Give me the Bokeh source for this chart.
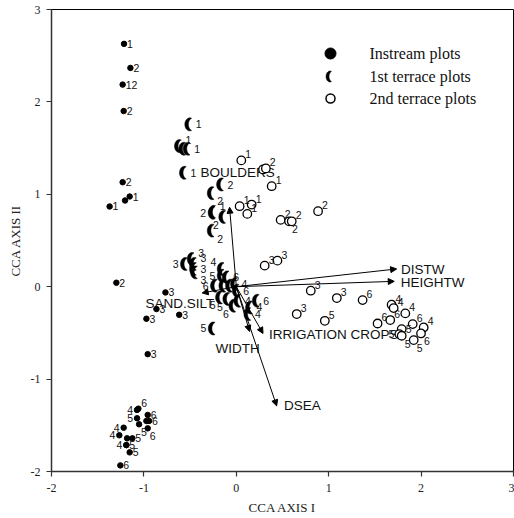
import numpy as np
from bokeh.plotting import figure
from bokeh.models import Arrow, NormalHead, ColumnDataSource, FixedTicker
from bokeh.core.properties import value
from bokeh.embed import file_html
from bokeh.resources import INLINE

# ---------------- data ----------------
# Instream plots (filled dots)
in_x = [-1.215, -1.146, -1.23, -1.219, -1.23, -1.154, -1.204, -1.371, -1.298,
        -0.767, -0.864, -0.973, -0.618, -0.959,
        -1.075, -1.06, -1.074, -1.052, -0.973, -0.944, -0.959, -0.959,
        -1.219, -1.266, -1.182, -1.125, -1.19, -1.19, -1.154, -1.255]
in_y = [2.628, 2.368, 2.187, 1.901, 1.131, 0.976, 0.933, 0.868, 0.043,
        -0.062, -0.242, -0.347, -0.304, -0.730,
        -1.334, -1.32, -1.424, -1.489, -1.453, -1.453, -1.388, -1.533,
        -1.526, -1.608, -1.641, -1.641, -1.714, -1.714, -1.793, -1.934]
in_lab = ["1", "2", "12", "2", "2", "1", "", "1", "2",
          "3", "3", "3", "3", "3",
          "4", "6", "5", "5", "", "6", "6", "6",
          "4", "4", "", "5", "4", "5", "5", "6"]
in_side = ["r", "r", "r", "r", "r", "r", "r", "r", "r",
           "r", "r", "r", "r", "r",
           "l", "u", "l", "d", "r", "r", "r", "d",
           "l", "l", "r", "r", "l", "r", "r", "r"]

# 1st terrace plots (crescents)
t1_x = [-0.503, -0.615, -0.568, -0.521, -0.561,
        -0.159, -0.26, -0.244, -0.25, -0.135, -0.26,
        -0.55, -0.477, -0.452, -0.452, -0.441,
        -0.152, -0.152, -0.098, -0.225, -0.134, -0.062, -0.008, 0.011,
        -0.17, -0.091, -0.026, 0.028, 0.228, 0.155, 0.137, -0.249]
t1_y = [1.757, 1.522, 1.493, 1.493, 1.233,
        1.106, 1.012, 0.81, 0.80, 0.755, 0.607,
        0.246, 0.30, 0.246, 0.192, 0.155,
        0.192, 0.119, 0.101, 0.011, 0.011, 0.011, 0.029, -0.043,
        -0.116, -0.133, -0.206, -0.152, -0.152, -0.225, -0.296, -0.452]
t1_lab = ["1", "1", "", "1", "1",
          "2", "2", "1", "2", "2", "2",
          "3", "3", "3", "3", "3",
          "4", "5", "6", "6", "", "", "4", "6",
          "5", "5", "6", "4", "6", "4", "4", "5"]
t1_side = ["r", "u", "r", "r", "r",
           "r", "d", "u", "l", "dl", "d",
           "l", "u", "u", "r", "d",
           "ul", "l", "r", "l", "r", "r", "r", "r",
           "dl", "dl", "dl", "r", "r", "r", "r", "l"]

# 2nd terrace plots (open circles)
t2_x = [0.054, 0.289, 0.32, 0.383, 0.036, 0.166, 0.119, 0.48, 0.571, 0.60, 0.885,
        0.307, 0.445, 0.806, 1.088, 0.654, 0.958, 1.367,
        1.681, 1.703, 1.829, 1.529, 1.666, 1.79, 1.764, 1.79,
        1.909, 2.028, 1.999, 1.92]
t2_y = [1.367, 1.269, 1.28, 1.088, 0.871, 0.889, 0.788, 0.723, 0.708, 0.708, 0.817,
        0.228, 0.282, -0.043, -0.123, -0.296, -0.369, -0.145,
        -0.195, -0.231, -0.289, -0.398, -0.361, -0.459, -0.513, -0.531,
        -0.405, -0.441, -0.506, -0.578]
t2_lab = ["1", "", "2", "1", "1", "1", "1", "2", "2", "2", "2",
          "3", "3", "3", "3", "3", "5", "6",
          "4", "4", "4", "6", "6", "5", "5", "5",
          "6", "4", "6", "5"]
t2_side = ["u", "u", "u", "u", "u", "u", "u", "u", "d", "u", "u",
           "u", "u", "u", "u", "u", "u", "u",
           "u", "u", "u", "u", "u", "r", "l", "d",
           "u", "u", "d", "d"]

# Environmental vectors (biplot arrows from the origin)
env_names = ["BOULDERS", "DISTW", "HEIGHTW", "IRRIGATION CROPS", "DSEA", "WIDTH", "SAND.SILT"]
env_x = [-0.073, 1.735, 1.709, 0.289, 0.437, 0.144, -0.369]
env_y = [0.86, 0.192, 0.058, -0.506, -1.29, -0.485, -0.068]
env_lab_x = [-0.387, 1.782, 1.779, 0.354, 0.516, -0.224, -0.984]
env_lab_y = [1.236, 0.184, 0.047, -0.513, -1.29, -0.665, -0.177]

legend_labels = ["Instream plots", "1st terrace plots", "2nd terrace plots"]
tick_vals = [-2, -1, 0, 1, 2, 3]
tick_text = ["-2", "-1", "0", "1", "2", "3"]

# ---------------- figure ----------------
W, H = 514, 518
ML, MR, MT, MB = 51, 1, 9, 47
X0, X1, Y0, Y1 = -2, 3, -2, 3
p = figure(width=W, height=H, x_range=(X0, X1), y_range=(Y0, Y1),
           output_backend="svg", toolbar_location=None,
           min_border_left=ML, min_border_right=MR,
           min_border_top=MT, min_border_bottom=MB)
p.grid.visible = False
p.background_fill_color = "white"
p.border_fill_color = "white"
p.outline_line_color = "black"
p.outline_line_width = 1

pxu = (W - ML - MR) / (X1 - X0)   # pixels per data unit (x)
pyu = (H - MT - MB) / (Y1 - Y0)   # pixels per data unit (y)

for ax in (p.xaxis[0], p.yaxis[0]):
    ax.ticker = FixedTicker(ticks=tick_vals)
    ax.major_label_overrides = {v: t for v, t in zip(tick_vals, tick_text)}
    ax.minor_tick_line_color = None
    ax.major_tick_in = 0
    ax.major_tick_out = 5
    ax.axis_line_width = 1.5
    ax.axis_line_color = "#333333"
    ax.major_tick_line_color = "#333333"
    ax.major_tick_line_width = 1.2
    ax.major_label_text_font = "Liberation Serif"
    ax.major_label_text_font_size = "12px"
    ax.major_label_text_color = "#222222"
    ax.axis_label_text_font = "Liberation Serif"
    ax.axis_label_text_font_size = "13px"
    ax.axis_label_text_font_style = "normal"
    ax.axis_label_text_color = "#222222"
p.xaxis.axis_label = "CCA AXIS I"
p.yaxis.axis_label = "CCA AXIS II"
p.xaxis.major_label_standoff = 7
p.xaxis.axis_label_standoff = 5
p.yaxis.major_label_standoff = 6
p.yaxis.axis_label_standoff = 5

# ---------------- arrows ----------------
asrc = ColumnDataSource(dict(x0=[0.0] * len(env_x), y0=[0.0] * len(env_y), x1=env_x, y1=env_y))
p.add_layout(Arrow(source=asrc, x_start="x0", y_start="y0", x_end="x1", y_end="y1",
                   line_color="black", line_width=1,
                   end=NormalHead(size=6, fill_color="black", line_color="black", line_width=1)))
p.text(x=env_lab_x, y=env_lab_y, text=env_names, text_align="left", text_baseline="middle",
       text_font=value("Liberation Sans"), text_font_size="13.5px", text_color="#111111")

# ---------------- helpers ----------------
OFFS = {"r": (3, 0, "left"), "l": (-4, 0, "right"), "u": (3, -6, "left"),
        "d": (2, 8, "left"), "ul": (-3, -7, "right"), "dl": (-2, 8, "right")}


def labels(xs, ys, labs, sides, extra):
    xo, yo, al = [], [], []
    for s in sides:
        dx, dy, a = OFFS[s]
        xo.append(dx + (extra if dx > 0 else -extra if dx < 0 else 0))
        yo.append(dy)
        al.append(a)
    src = ColumnDataSource(dict(x=xs, y=ys, t=labs, xo=xo, yo=yo, al=al))
    p.text(x="x", y="y", text="t", x_offset="xo", y_offset="yo", text_align="al",
           text_baseline="middle", text_font=value("Liberation Sans"),
           text_font_size="10.5px", text_color="#111111", source=src)


def crescent(cx, cy, rx, ry, d):
    xi = d / 2.0
    th0 = np.arccos(xi / rx)
    t = np.linspace(th0, 2 * np.pi - th0, 28)
    ox, oy = rx * np.cos(t), ry * np.sin(t)
    ph0 = np.arccos((xi - d) / rx)
    t2 = np.linspace(2 * np.pi - ph0, ph0, 28)
    ix, iy = d + rx * np.cos(t2), ry * np.sin(t2)
    px = np.concatenate([ox, ix])
    py = np.concatenate([oy, iy])
    return list(cx + px / pxu), list(cy + py / pyu)


# ---------------- points ----------------
p.scatter(in_x, in_y, size=5.5, marker="circle", fill_color="black", line_color="black")
labels(in_x, in_y, in_lab, in_side, 0)

cx, cy = [], []
for a, b in zip(t1_x, t1_y):
    xs, ys = crescent(a, b, 5.0, 6.5, 3.6)
    cx.append(xs)
    cy.append(ys)
p.patches(cx, cy, fill_color="black", line_color="black", line_width=0.5)
labels(t1_x, t1_y, t1_lab, t1_side, 3)

p.scatter(t2_x, t2_y, size=8.5, marker="circle", fill_color="white", line_color="black", line_width=1.3)
labels(t2_x, t2_y, t2_lab, t2_side, 1)

# ---------------- legend (drawn at fixed place in the frame) ----------------
def sx(px_):
    return X0 + (px_ - ML) / pxu


def sy(py_):
    return Y1 - (py_ - MT) / pyu


leg_mx = sx(330)
leg_ty = [sy(53), sy(76), sy(98)]
p.scatter([leg_mx], [leg_ty[0]], size=11, marker="circle", fill_color="black", line_color="black")
lx, ly = crescent(leg_mx - 0.005, leg_ty[1], 4.0, 5.5, 3.0)
p.patch(lx, ly, fill_color="black", line_color="black", line_width=0.5)
p.scatter([leg_mx], [leg_ty[2]], size=9, marker="circle", fill_color="white", line_color="black", line_width=1.5)
p.text(x=[sx(369)] * 3, y=leg_ty, text=legend_labels, text_align="left", text_baseline="middle",
       text_font=value("Liberation Serif"), text_font_size="16px", text_color="#111111")

open("out.html", "w").write(file_html(p, INLINE))
